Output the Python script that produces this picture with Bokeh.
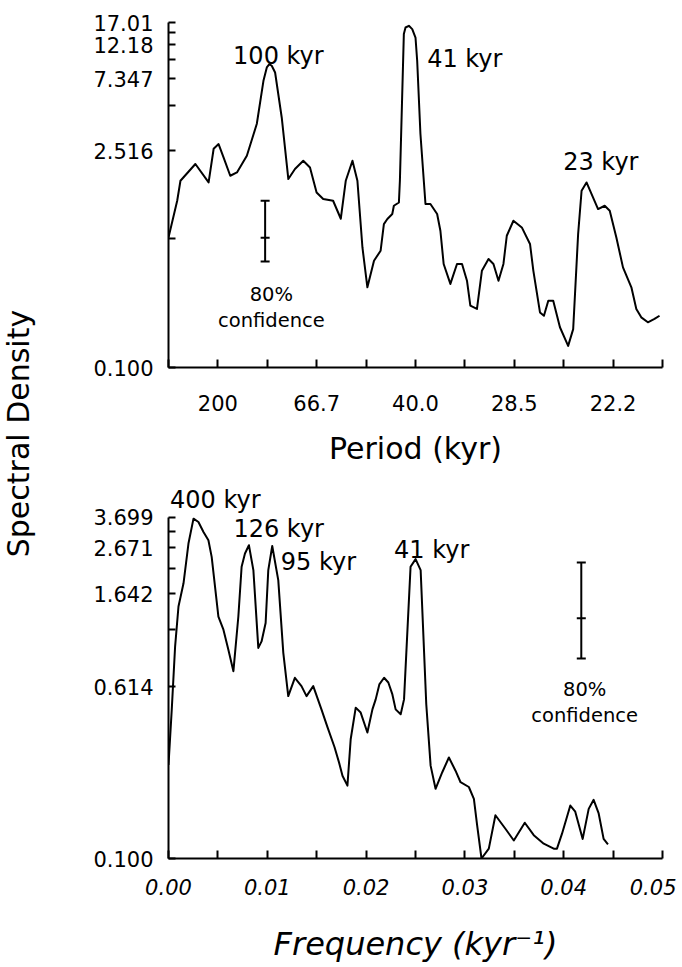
from bokeh.plotting import figure
from bokeh.models import Range1d, FixedTicker, Label, CustomJSTickFormatter
from bokeh.layouts import row, column
from bokeh.embed import file_html
from bokeh.resources import INLINE
import math

FONT = "DejaVu Sans"

# ---------------- data ----------------
# Top panel: spectrum plotted against frequency (kyr^-1), labelled by period
top_freq = [0.0000, 0.00088, 0.00121, 0.00272, 0.00406, 0.00457, 0.00507, 0.00557, 0.00625, 0.00693,
            0.00793, 0.00894, 0.00961, 0.00995, 0.01021, 0.01045, 0.01079, 0.01146, 0.01213, 0.01280,
            0.01364, 0.01432, 0.01499, 0.01566, 0.01666, 0.01744, 0.01794, 0.01862, 0.01912, 0.01963,
            0.02013, 0.02080, 0.02147, 0.02180, 0.02215, 0.02265, 0.02281, 0.02332, 0.02342, 0.02382,
            0.02399, 0.02433, 0.02467, 0.02500, 0.02517, 0.02550, 0.02601, 0.02651, 0.02719, 0.02752,
            0.02785, 0.02853, 0.02920, 0.02971, 0.03021, 0.03055, 0.03122, 0.03172, 0.03239, 0.03289,
            0.03340, 0.03390, 0.03424, 0.03491, 0.03576, 0.03659, 0.03693, 0.03760, 0.03800, 0.03844,
            0.03894, 0.03962, 0.04045, 0.04096, 0.04146, 0.04181, 0.04231, 0.04348, 0.04415, 0.04466,
            0.04533, 0.04600, 0.04685, 0.04735, 0.04785, 0.04852, 0.04919, 0.04970]
top_dens = [0.693, 1.197, 1.612, 2.068, 1.572, 2.596, 2.784, 2.281, 1.737, 1.825,
            2.339, 3.766, 7.143, 8.710, 9.158, 8.930, 8.080, 4.136, 1.654, 1.919,
            2.171, 1.965, 1.354, 1.228, 1.197, 0.916, 1.612, 2.171, 1.612, 0.597,
            0.330, 0.490, 0.569, 0.846, 0.912, 0.982, 1.111, 1.167, 1.612, 14.31,
            15.79, 16.19, 15.42, 13.60, 9.62, 3.232, 1.140, 1.140, 0.982, 0.766,
            0.467, 0.347, 0.467, 0.467, 0.364, 0.251, 0.239, 0.422, 0.503, 0.467,
            0.364, 0.467, 0.711, 0.889, 0.805, 0.629, 0.422, 0.227, 0.216, 0.270,
            0.270, 0.182, 0.138, 0.177, 0.729, 1.389, 1.572, 1.058, 1.111, 1.032,
            0.693, 0.444, 0.330, 0.239, 0.211, 0.196, 0.206, 0.216]

# Bottom panel: spectrum against frequency (kyr^-1)
bot_freq = [0.00000, 0.00033, 0.00067, 0.00101, 0.00152, 0.00202, 0.00253, 0.00303, 0.00354, 0.00404,
            0.00437, 0.00505, 0.00556, 0.00606, 0.00657, 0.00707, 0.00740, 0.00774, 0.00814, 0.00859,
            0.00909, 0.00942, 0.00983, 0.01010, 0.01050, 0.01111, 0.01162, 0.01212, 0.01279, 0.01346,
            0.01397, 0.01465, 0.01548, 0.01609, 0.01680, 0.01730, 0.01761, 0.01811, 0.01844, 0.01895,
            0.01945, 0.02013, 0.02064, 0.02097, 0.02134, 0.02182, 0.02225, 0.02266, 0.02299, 0.02350,
            0.02384, 0.02450, 0.02501, 0.02552, 0.02609, 0.02653, 0.02703, 0.02771, 0.02838, 0.02905,
            0.02956, 0.03040, 0.03091, 0.03124, 0.03168, 0.03242, 0.03309, 0.03410, 0.03495, 0.03606,
            0.03697, 0.03798, 0.03899, 0.03932, 0.03983, 0.04067, 0.04117, 0.04192, 0.04253, 0.04303,
            0.04354, 0.04404, 0.04448]
bot_dens = [0.269, 0.484, 0.943, 1.436, 1.836, 2.796, 3.637, 3.509, 3.159, 2.894,
            2.428, 1.292, 1.124, 0.910, 0.725, 1.292, 2.186, 2.517, 2.746, 2.112,
            0.927, 0.993, 1.206, 2.112, 2.723, 1.900, 0.880, 0.557, 0.676, 0.619,
            0.557, 0.619, 0.484, 0.401, 0.325, 0.272, 0.240, 0.216, 0.353, 0.493,
            0.468, 0.379, 0.484, 0.538, 0.630, 0.676, 0.643, 0.567, 0.484, 0.460,
            0.538, 2.186, 2.370, 2.112, 0.511, 0.267, 0.209, 0.249, 0.291, 0.253,
            0.224, 0.213, 0.188, 0.142, 0.100, 0.111, 0.158, 0.137, 0.121, 0.146,
            0.128, 0.117, 0.111, 0.111, 0.130, 0.175, 0.164, 0.123, 0.169, 0.186,
            0.161, 0.123, 0.116]

x_ticks = [0.0, 0.005, 0.010, 0.015, 0.020, 0.025, 0.030, 0.035, 0.040, 0.045, 0.050]
top_x_labels = ["", "200", "", "66.7", "", "40.0", "", "28.5", "", "22.2", ""]
bot_x_labels = ["0.00", "", "0.01", "", "0.02", "", "0.03", "", "0.04", "", "0.05"]

top_y_ticks = [0.100, 0.680, 2.516, 4.932, 7.347, 9.763, 12.18, 14.595, 17.01]
top_y_labels = ["0.100", "", "2.516", "", "7.347", "", "12.18", "", "17.01"]
bot_y_ticks = [0.100, 0.614, 1.128, 1.642, 2.157, 2.671, 3.185, 3.699]
bot_y_labels = ["0.100", "0.614", "", "1.642", "", "2.671", "", "3.699"]

# 80% confidence bars (frequency, low, centre, high)
top_conf = (0.00978, 0.485, 0.690, 1.197)
bot_conf = (0.04178, 0.828, 1.270, 2.289)


def fmt(vals, labs):
    return CustomJSTickFormatter(args=dict(vals=vals, labs=labs), code="""
        for (let i = 0; i < vals.length; i++) {
            if (Math.abs(tick - vals[i]) <= 1e-6 * Math.max(1, Math.abs(vals[i]))) return labs[i];
        }
        return "";
    """)


def style_axes(p, italic_x=False):
    for ax in (p.xaxis[0], p.yaxis[0]):
        ax.axis_line_width = 2
        ax.axis_line_color = "black"
        ax.major_tick_line_width = 2
        ax.major_tick_line_color = "black"
        ax.minor_tick_line_color = None
        ax.major_tick_out = 0
        ax.major_label_text_font = FONT
        ax.major_label_text_font_size = "21px"
        ax.major_label_text_color = "black"
        ax.axis_label_text_color = "black"
        ax.axis_label_text_font = FONT
    p.xaxis[0].major_tick_in = 8
    p.yaxis[0].major_tick_in = 7
    p.yaxis[0].major_label_standoff = 15
    if italic_x:
        p.xaxis[0].major_label_text_font_style = "italic"
    p.xgrid.visible = False
    p.ygrid.visible = False
    p.outline_line_color = None


def add_text(p, x, y, text, size="24px", align="left"):
    p.add_layout(Label(x=x, y=y, text=text, text_font=FONT, text_font_size=size,
                       text_color="black", text_align=align, text_baseline="alphabetic"))


def add_conf(p, conf):
    f, lo, mid, hi = conf
    p.segment(x0=[f], y0=[lo], x1=[f], y1=[hi], line_color="black", line_width=2)
    p.scatter(x=[f, f, f], y=[lo, mid, hi], marker="dash", size=9,
              line_color="black", line_width=2)


# ---------------- top panel ----------------
top = figure(width=630, height=478, output_backend="svg", toolbar_location=None,
             y_axis_type="log", x_range=Range1d(0, 0.05), y_range=Range1d(0.1, 17.01),
             min_border_left=122, min_border_right=12, min_border_top=22, min_border_bottom=111,
             background_fill_color="white", border_fill_color="white")
top.line(top_freq, top_dens, line_color="black", line_width=2, line_join="round")
style_axes(top)
top.xaxis[0].ticker = FixedTicker(ticks=x_ticks)
top.xaxis[0].formatter = fmt(x_ticks, top_x_labels)
top.yaxis[0].ticker = FixedTicker(ticks=top_y_ticks)
top.yaxis[0].formatter = fmt(top_y_ticks, top_y_labels)
top.xaxis[0].major_label_standoff = 27
top.xaxis[0].axis_label = "Period (kyr)"
top.xaxis[0].axis_label_text_font_size = "30px"
top.xaxis[0].axis_label_text_font_style = "normal"
top.xaxis[0].axis_label_standoff = 17
add_conf(top, top_conf)
add_text(top, 0.01112, 10.36, "100 kyr", align="center")
add_text(top, 0.02618, 9.85, "41 kyr")
add_text(top, 0.03995, 2.118, "23 kyr")
add_text(top, 0.01041, 0.2987, "80%", size="19.5px", align="center")
add_text(top, 0.01041, 0.2009, "confidence", size="19.5px", align="center")

# ---------------- bottom panel ----------------
# frame extends above the 3.699 tick so the "400 kyr" note fits; the axis line stops at 3.699
bot = figure(width=630, height=487, output_backend="svg", toolbar_location=None,
             y_axis_type="log", x_range=Range1d(0, 0.05), y_range=Range1d(0.1, 5.445),
             min_border_left=121, min_border_right=14, min_border_top=2, min_border_bottom=105,
             background_fill_color="white", border_fill_color="white")
bot.line(bot_freq, bot_dens, line_color="black", line_width=2, line_join="round")
style_axes(bot, italic_x=True)
bot.yaxis[0].bounds = (0.1, 3.699)
bot.xaxis[0].ticker = FixedTicker(ticks=x_ticks)
bot.xaxis[0].formatter = fmt(x_ticks, bot_x_labels)
bot.yaxis[0].ticker = FixedTicker(ticks=bot_y_ticks)
bot.yaxis[0].formatter = fmt(bot_y_ticks, bot_y_labels)
bot.xaxis[0].major_label_standoff = 20
bot.xaxis[0].axis_label = "Frequency (kyr\u207b\u00b9)"
bot.xaxis[0].axis_label_text_font_size = "32px"
bot.xaxis[0].axis_label_text_font_style = "italic"
bot.xaxis[0].axis_label_standoff = 27
add_conf(bot, bot_conf)
add_text(bot, 0.00016, 4.41, "400 kyr")
add_text(bot, 0.00657, 3.273, "126 kyr")
add_text(bot, 0.01137, 2.304, "95 kyr")
add_text(bot, 0.02283, 2.605, "41 kyr")
add_text(bot, 0.04212, 0.5977, "80%", size="19.5px", align="center")
add_text(bot, 0.04212, 0.4515, "confidence", size="19.5px", align="center")

# ---------------- shared y label ----------------
lab = figure(width=46, height=965, output_backend="svg", toolbar_location=None,
             x_range=Range1d(0, 46), y_range=Range1d(0, 965),
             x_axis_type=None, y_axis_type=None, min_border=0,
             background_fill_color="white", border_fill_color="white")
lab.outline_line_color = None
lab.xgrid.visible = False
lab.ygrid.visible = False
lab.add_layout(Label(x=18, y=532, text="Spectral Density", angle=math.pi / 2,
                     text_font=FONT, text_font_size="30px", text_color="black",
                     text_align="center", text_baseline="middle"))

layout = row(lab, column(top, bot))
open("out.html", "w").write(file_html(layout, INLINE))
